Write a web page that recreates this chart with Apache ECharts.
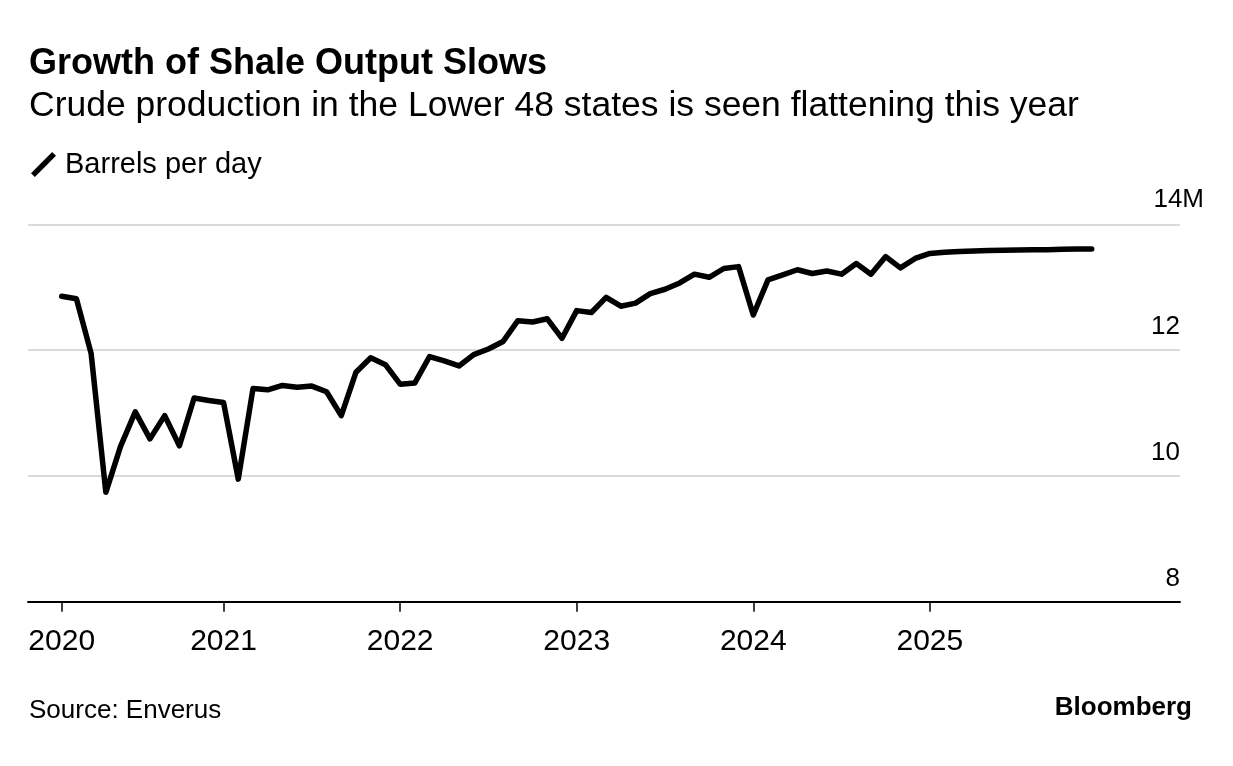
<!DOCTYPE html>
<html>
<head>
<meta charset="utf-8">
<title>Growth of Shale Output Slows</title>
<script src="https://cdn.jsdelivr.net/npm/echarts@6/dist/echarts.min.js"></script>
<style>
  html, body { margin: 0; padding: 0; background: #fff; }
  #main { width: 1233px; height: 766px; }
</style>
</head>
<body>
<div id="main"></div>
<script>
// Lower 48 crude output, million barrels per day
var output2020 = [12.86, 12.82, 11.95, 9.74, 10.47, 11.02, 10.59, 10.96, 10.48, 11.24, 11.20]; // Feb..Dec
var output2021 = [11.17, 9.95, 11.39, 11.37, 11.44, 11.41, 11.43, 11.34, 10.96, 11.65, 11.88, 11.77];
var output2022 = [11.46, 11.48, 11.90, 11.83, 11.75, 11.93, 12.02, 12.14, 12.47, 12.45, 12.50, 12.19];
var output2023 = [12.63, 12.60, 12.84, 12.70, 12.75, 12.90, 12.97, 13.07, 13.21, 13.16, 13.30, 13.33];
var output2024 = [12.56, 13.12, 13.20, 13.28, 13.22, 13.26, 13.21, 13.38, 13.21, 13.49, 13.31, 13.46];
var output2025 = [13.54, 13.56, 13.57, 13.58, 13.585, 13.59, 13.595, 13.60, 13.60, 13.605, 13.61, 13.61];

var years = [2020, 2021, 2022, 2023, 2024, 2025];
var firstMonth = [2, 1, 1, 1, 1, 1]; // 2020 series starts in February
// x positions are months counted from Jan 2020 (0)
var yearTicks = [1, 12, 24, 36, 48, 60];
var yearLabels = ['2020', '2021', '2022', '2023', '2024', '2025'];
var yTicks = [8, 10, 12, 14];

var font = 'Liberation Sans';

var seriesData = [];
[output2020, output2021, output2022, output2023, output2024, output2025].forEach(function (arr, i) {
    arr.forEach(function (v, j) {
        var m = (years[i] - 2020) * 12 + firstMonth[i] - 1 + j;
        seriesData.push([m, v]);
    });
});

var myChart = echarts.init(document.getElementById('main'));
option = {
    animation: false,
    backgroundColor: '#fff',
    title: [
        {
            text: 'Growth of Shale Output Slows',
            left: 24, top: 41,
            textStyle: { fontFamily: font, fontSize: 36, fontWeight: 'bold', color: '#000' }
        },
        {
            text: 'Crude production in the Lower 48 states is seen flattening this year',
            left: 24, top: 83,
            textStyle: { fontFamily: font, fontSize: 35.5, fontWeight: 'normal', color: '#000' }
        },
        {
            text: 'Source: Enverus',
            left: 24, top: 693,
            textStyle: { fontFamily: font, fontSize: 26, fontWeight: 'normal', color: '#000' }
        },
        {
            text: 'Bloomberg',
            right: 36, top: 690,
            textStyle: { fontFamily: font, fontSize: 26, fontWeight: 'bold', color: '#000' }
        }
    ],
    legend: {
        left: 26, top: 145,
        icon: 'path://M0,22 L4,26 L26,4 L22,0 Z',
        itemWidth: 25, itemHeight: 25, itemGap: 10,
        textStyle: { fontFamily: font, fontSize: 29, color: '#000', padding: [0, 0, 0, 4] },
        data: ['Barrels per day']
    },
    grid: { left: 28, right: 53, top: 224.5, bottom: 164.3, containLabel: false },
    xAxis: {
        type: 'value',
        min: -1.29,
        max: 77,
        axisLine: { show: true, lineStyle: { color: '#000', width: 2 } },
        axisTick: { show: true, customValues: yearTicks, length: 10, lineStyle: { color: '#000', width: 1.5 } },
        axisLabel: {
            customValues: yearTicks,
            margin: 25,
            fontFamily: font, fontSize: 30, color: '#000',
            formatter: function (v) {
                var i = yearTicks.indexOf(v);
                return i >= 0 ? yearLabels[i] : '';
            }
        },
        splitLine: { show: false }
    },
    yAxis: {
        type: 'value',
        position: 'right',
        min: 8, max: 14, interval: 2,
        axisLine: { show: false },
        axisTick: { show: false },
        splitLine: { show: true, lineStyle: { color: '#dadada', width: 2 } },
        axisLabel: {
            inside: true,
            margin: -24,
            align: 'right',
            verticalAlign: 'bottom',
            formatter: function (v) {
                return v === yTicks[yTicks.length - 1] ? '{u|' + v + 'M}' : '{n|' + v + '}';
            },
            rich: {
                u: { fontFamily: font, fontSize: 26, color: '#000', padding: [0, 0, 12, 0] },
                n: { fontFamily: font, fontSize: 26, color: '#000', padding: [0, 24, 10, 0] }
            }
        }
    },
    series: [
        {
            name: 'Barrels per day',
            type: 'line',
            data: seriesData,
            showSymbol: false,
            symbol: 'none',
            color: '#000',
            lineStyle: { color: '#000', width: 5.5, join: 'round', cap: 'round' },
            z: 3
        }
    ]
};

myChart.setOption(option);
</script>
</body>
</html>
